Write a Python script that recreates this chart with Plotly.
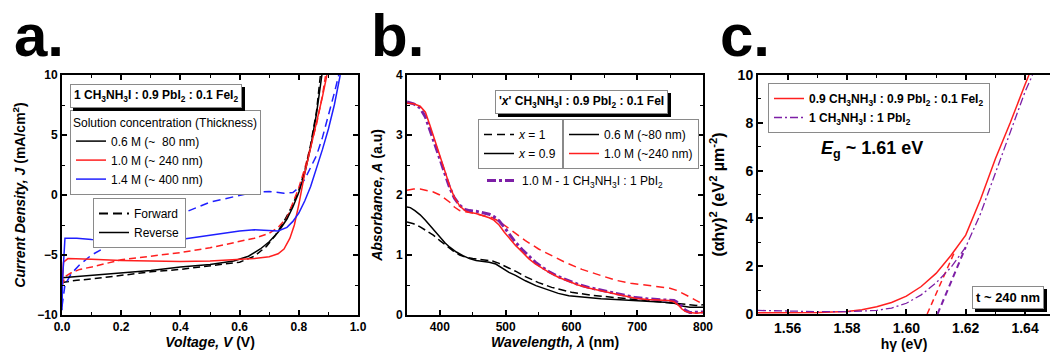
import plotly.graph_objects as go

# ---------------- Panel a: J-V curves ----------------
a_v_black_rev = [0.00, 0.05, 0.10, 0.20, 0.30, 0.40, 0.50, 0.58, 0.63, 0.67, 0.70, 0.73, 0.76, 0.78, 0.80, 0.82, 0.84, 0.86, 0.878]
a_j_black_rev = [-6.9, -6.8, -6.7, -6.5, -6.3, -6.0, -5.8, -5.5, -5.1, -4.5, -3.9, -3.1, -2.0, -1.0, 0.2, 1.8, 4.0, 6.8, 10.0]
a_v_black_fwd = [0.00, 0.05, 0.10, 0.20, 0.30, 0.40, 0.50, 0.60, 0.65, 0.69, 0.72, 0.75, 0.78, 0.80, 0.82, 0.84, 0.86, 0.873]
a_j_black_fwd = [-7.3, -7.1, -7.0, -6.7, -6.4, -6.2, -5.9, -5.6, -5.1, -4.3, -3.4, -2.2, -0.8, 0.4, 2.0, 4.2, 7.0, 10.0]
a_v_red_rev = [0.000, 0.005, 0.02, 0.05, 0.10, 0.20, 0.30, 0.40, 0.50, 0.60, 0.65, 0.70, 0.73, 0.75, 0.77, 0.785, 0.80, 0.82, 0.84, 0.86, 0.88, 0.895]
a_j_red_rev = [-7.8, -5.6, -5.3, -5.3, -5.35, -5.45, -5.5, -5.55, -5.5, -5.4, -5.3, -5.15, -4.9, -4.5, -3.6, -2.5, -0.8, 1.8, 3.9, 6.0, 8.2, 10.0]
a_v_red_fwd = [0.00, 0.01, 0.03, 0.06, 0.10, 0.20, 0.30, 0.40, 0.50, 0.60, 0.65, 0.70, 0.73, 0.76, 0.78, 0.80, 0.82, 0.84, 0.86, 0.88, 0.89]
a_j_red_fwd = [-7.6, -6.8, -6.5, -6.2, -6.0, -5.4, -5.1, -4.8, -4.4, -3.9, -3.6, -3.2, -2.7, -1.9, -0.6, 0.6, 2.2, 4.0, 5.9, 8.3, 9.9]
a_v_blue_rev = [0.000, 0.002, 0.01, 0.05, 0.10, 0.20, 0.30, 0.40, 0.50, 0.60, 0.65, 0.70, 0.73, 0.76, 0.78, 0.80, 0.82, 0.84, 0.86, 0.88, 0.90, 0.92, 0.94]
a_j_blue_rev = [-9.6, -7.0, -3.6, -3.6, -3.7, -3.8, -3.8, -3.7, -3.35, -3.0, -2.9, -2.95, -3.0, -2.7, -2.2, -1.5, -0.5, 0.7, 2.2, 3.8, 5.5, 7.5, 10.0]
a_v_blue_fwd = [0.00, 0.01, 0.03, 0.06, 0.10, 0.15, 0.20, 0.25, 0.30, 0.40, 0.50, 0.60, 0.65, 0.70, 0.75, 0.78, 0.80, 0.82, 0.84, 0.86, 0.88, 0.90, 0.92, 0.935]
a_j_blue_fwd = [-9.3, -7.5, -6.6, -5.8, -5.0, -4.3, -3.8, -3.3, -2.7, -1.6, -0.6, 0.0, 0.25, 0.3, 0.15, 0.2, 0.6, 1.3, 2.3, 3.3, 4.8, 6.6, 8.5, 10.0]

# ---------------- Panel b: absorbance ----------------
b_lam_red = [350, 360, 370, 378, 385, 392, 400, 408, 415, 422, 430, 438, 445, 455, 465, 475, 482, 490, 498, 506, 515, 525, 535, 545, 555, 566, 580, 596, 610, 626, 645, 667, 685, 697, 715, 735, 748, 756, 763, 768, 773, 780, 790, 800]
b_a_red = [3.53, 3.52, 3.48, 3.38, 3.16, 2.92, 2.66, 2.38, 2.15, 1.96, 1.82, 1.74, 1.71, 1.69, 1.66, 1.62, 1.58, 1.50, 1.38, 1.27, 1.16, 1.05, 0.94, 0.85, 0.78, 0.71, 0.63, 0.56, 0.50, 0.45, 0.40, 0.35, 0.31, 0.28, 0.26, 0.25, 0.24, 0.22, 0.16, 0.10, 0.06, 0.04, 0.03, 0.04]
b_lam_purple = [350, 360, 370, 378, 385, 392, 400, 408, 415, 422, 430, 438, 445, 455, 465, 475, 482, 490, 498, 506, 515, 525, 535, 545, 555, 566, 580, 596, 610, 626, 645, 667, 685, 697, 715, 735, 748, 756, 763, 768, 773, 780, 790, 800]
b_a_purple = [3.55, 3.52, 3.45, 3.30, 3.08, 2.85, 2.60, 2.33, 2.12, 1.95, 1.83, 1.76, 1.74, 1.73, 1.71, 1.68, 1.64, 1.57, 1.46, 1.34, 1.21, 1.09, 0.98, 0.88, 0.80, 0.72, 0.64, 0.57, 0.51, 0.46, 0.41, 0.36, 0.32, 0.29, 0.27, 0.26, 0.25, 0.24, 0.20, 0.14, 0.08, 0.04, 0.04, 0.05]
b_lam_red_dash = [350, 360, 370, 380, 390, 400, 408, 415, 422, 430, 438, 450, 465, 480, 490, 500, 515, 530, 550, 570, 590, 616, 640, 667, 690, 718, 748, 760, 768, 780, 790, 800]
b_a_red_dash = [2.08, 2.10, 2.10, 2.08, 2.05, 2.00, 1.94, 1.88, 1.80, 1.74, 1.72, 1.70, 1.66, 1.62, 1.56, 1.48, 1.36, 1.24, 1.10, 0.99, 0.88, 0.76, 0.67, 0.58, 0.53, 0.49, 0.45, 0.41, 0.37, 0.30, 0.24, 0.18]
b_lam_black = [350, 355, 362, 370, 378, 385, 392, 400, 408, 415, 425, 435, 445, 455, 465, 475, 485, 495, 505, 515, 530, 546, 565, 580, 596, 620, 645, 667, 700, 730, 748, 758, 768, 780, 790, 800]
b_a_black = [1.80, 1.79, 1.74, 1.67, 1.58, 1.49, 1.40, 1.30, 1.20, 1.13, 1.05, 0.99, 0.94, 0.91, 0.90, 0.88, 0.85, 0.78, 0.71, 0.66, 0.57, 0.49, 0.41, 0.36, 0.32, 0.29, 0.27, 0.26, 0.24, 0.22, 0.21, 0.19, 0.15, 0.13, 0.13, 0.13]
b_lam_black_dash = [350, 360, 370, 380, 390, 400, 410, 420, 430, 440, 450, 460, 470, 480, 490, 500, 515, 530, 550, 570, 600, 630, 667, 700, 730, 750, 760, 770, 780, 790, 800]
b_a_black_dash = [1.55, 1.52, 1.47, 1.40, 1.33, 1.24, 1.15, 1.07, 1.00, 0.96, 0.94, 0.93, 0.92, 0.90, 0.86, 0.81, 0.73, 0.64, 0.54, 0.46, 0.38, 0.33, 0.29, 0.26, 0.23, 0.21, 0.20, 0.19, 0.17, 0.16, 0.17]

# ---------------- Panel c: Tauc plot ----------------
c_e_red = [1.55, 1.56, 1.57, 1.58, 1.585, 1.59, 1.595, 1.60, 1.605, 1.61, 1.615, 1.62, 1.625, 1.63, 1.635, 1.64, 1.6413]
c_y_red = [0.05, 0.05, 0.06, 0.10, 0.18, 0.30, 0.48, 0.75, 1.15, 1.70, 2.45, 3.30, 4.80, 6.50, 8.00, 9.60, 10.0]
c_e_purple = [1.55, 1.56, 1.57, 1.58, 1.59, 1.595, 1.60, 1.605, 1.61, 1.615, 1.62, 1.625, 1.63, 1.635, 1.64, 1.6425]
c_y_purple = [0.15, 0.12, 0.10, 0.10, 0.15, 0.25, 0.45, 0.80, 1.30, 1.95, 2.80, 4.20, 5.90, 7.60, 9.30, 10.0]
c_fit_e_red = [1.607, 1.6166]
c_fit_y_red = [0.0, 2.7]
c_fit_e_purple = [1.6105, 1.6200]
c_fit_y_purple = [0.0, 2.8]

FONT = "Liberation Sans, Arial, Helvetica, sans-serif"
W, H = 1050, 360
RED = "#ff1f1f"
BLUE = "#1f1fff"
PURPLE = "#7d1fa6"
BLACK = "#000000"


def px_x(p):
    return p / W


def px_y(p):
    return 1 - p / H


fig = go.Figure()


def line_trace(x, y, color, width, dash, name=None, legend=None, axes=("x", "y")):
    return go.Scatter(
        x=x, y=y, mode="lines",
        line=dict(color=color, width=width, dash=dash),
        name=name, legend=legend, showlegend=name is not None,
        xaxis=axes[0], yaxis=axes[1], hoverinfo="skip",
    )


# Panel a traces
A = ("x", "y")
fig.add_trace(line_trace(a_v_black_fwd, a_j_black_fwd, BLACK, 1.5, "7px,4px", axes=A))
fig.add_trace(line_trace(a_v_red_fwd, a_j_red_fwd, RED, 1.5, "7px,4px", axes=A))
fig.add_trace(line_trace(a_v_blue_fwd, a_j_blue_fwd, BLUE, 1.5, "8px,5px", axes=A))
fig.add_trace(line_trace(a_v_black_rev, a_j_black_rev, BLACK, 1.5, "solid", "0.6 M (~  80 nm)", "legend", A))
fig.add_trace(line_trace(a_v_red_rev, a_j_red_rev, RED, 1.5, "solid", "1.0 M (~ 240 nm)", "legend", A))
fig.add_trace(line_trace(a_v_blue_rev, a_j_blue_rev, BLUE, 1.5, "solid", "1.4 M (~ 400 nm)", "legend", A))
fig.add_trace(line_trace([None], [None], BLACK, 2, "9px,5px", "Forward", "legend2", A))
fig.add_trace(line_trace([None], [None], BLACK, 1.5, "solid", "Reverse", "legend2", A))

# Panel b traces
B = ("x2", "y2")
fig.add_trace(line_trace(b_lam_black_dash, b_a_black_dash, BLACK, 1.5, "8px,4px", axes=B))
fig.add_trace(line_trace(b_lam_red_dash, b_a_red_dash, RED, 1.5, "8px,5px", axes=B))
fig.add_trace(line_trace(b_lam_black, b_a_black, BLACK, 1.5, "solid", axes=B))
fig.add_trace(line_trace(b_lam_purple, b_a_purple, PURPLE, 3, "9px,3px,3px,3px", axes=B))
fig.add_trace(line_trace(b_lam_red, b_a_red, RED, 1.5, "solid", axes=B))
fig.add_trace(line_trace([None], [None], BLACK, 1.5, "8px,5px", "<i>x</i> = 1", "legend3", B))
fig.add_trace(line_trace([None], [None], BLACK, 1.5, "solid", "<i>x</i> = 0.9", "legend3", B))
fig.add_trace(line_trace([None], [None], BLACK, 1.5, "solid", "0.6 M (~80 nm)", "legend4", B))
fig.add_trace(line_trace([None], [None], RED, 1.5, "solid", "1.0 M (~240 nm)", "legend4", B))
fig.add_trace(line_trace([None], [None], PURPLE, 3, "9px,3px,3px,3px",
                         "1.0 M - 1 CH<sub>3</sub>NH<sub>3</sub>I : 1 PbI<sub>2</sub>", "legend5", B))

# Panel c traces
C = ("x3", "y3")
fig.add_trace(line_trace(c_fit_e_red, c_fit_y_red, RED, 1.5, "6px,4px", axes=C))
fig.add_trace(line_trace(c_fit_e_purple, c_fit_y_purple, PURPLE, 2, "6px,4px", axes=C))
fig.add_trace(line_trace(c_e_red, c_y_red, RED, 1.5, "solid",
                         "0.9 CH<sub>3</sub>NH<sub>3</sub>I : 0.9 PbI<sub>2</sub> : 0.1 FeI<sub>2</sub>", "legend6", C))
fig.add_trace(line_trace(c_e_purple, c_y_purple, PURPLE, 1.3, "8px,3px,2px,3px",
                         "1 CH<sub>3</sub>NH<sub>3</sub>I : 1 PbI<sub>2</sub>", "legend6", C))

tickfont = dict(family=FONT, size=12, color="black", weight="bold")
axis_common = dict(
    showline=True, linecolor="black", linewidth=2, mirror="ticks",
    ticks="inside", ticklen=5, tickwidth=1.5, tickcolor="black",
    showgrid=False, zeroline=False, automargin=False, tickfont=tickfont,
    minor=dict(ticks="inside", ticklen=3, tickwidth=1.2, tickcolor="black", showgrid=False),
)
title_font = dict(family=FONT, size=14, color="black", weight="bold")

y_dom = [px_y(315), px_y(75)]

legend_common = dict(
    xanchor="left", yanchor="top", bgcolor="white", bordercolor="#8a8a8a", borderwidth=1,
    font=dict(family=FONT, size=12, color="black"), itemwidth=30, tracegroupgap=0,
)

fig.update_layout(
    width=W, height=H, margin=dict(l=0, r=0, t=0, b=0),
    paper_bgcolor="white", plot_bgcolor="white", template="none",
    xaxis=dict(axis_common, domain=[px_x(62), px_x(358)], anchor="y", range=[0, 1.0], dtick=0.2,
               tick0=0, tickformat=".1f", minor_dtick=0.1,
               title=dict(text="<i>Voltage, V</i> (V)", font=title_font, standoff=4)),
    yaxis=dict(axis_common, domain=y_dom, anchor="x", range=[-10, 10], dtick=5, tick0=0, minor_dtick=2.5,
               title=dict(text="<i>Current Density, J</i> (mA/cm<sup>2</sup>)", font=title_font, standoff=8)),
    xaxis2=dict(axis_common, domain=[px_x(407), px_x(703)], anchor="y2", range=[350, 800], dtick=100,
                tick0=0, minor_dtick=50,
                title=dict(text="<i>Wavelength, λ</i> (nm)", font=title_font, standoff=4)),
    yaxis2=dict(axis_common, domain=y_dom, anchor="x2", range=[0, 4], dtick=1, tick0=0, minor_dtick=0.5,
                title=dict(text="<i>Absorbance, A</i> (a.u)", font=title_font, standoff=10)),
    xaxis3=dict(axis_common, domain=[px_x(758), 1.0], anchor="y3", range=[1.55, 1.6484], dtick=0.02,
                tick0=1.56, tickformat=".2f", minor_dtick=0.01,
                tickfont=dict(tickfont, size=14),
                title=dict(text="hγ (eV)", font=dict(title_font, size=14), standoff=2)),
    yaxis3=dict(axis_common, domain=[px_y(314), px_y(75)], anchor="x3", range=[0, 10], dtick=2, tick0=0,
                minor_dtick=1, mirror=False, tickfont=dict(tickfont, size=14),
                title=dict(text="(αhγ)<sup>2</sup> (eV<sup>2</sup> µm<sup>-2</sup>)",
                           font=dict(family=FONT, size=16, color="black", weight="bold"), standoff=9)),
    legend=dict(legend_common, x=px_x(70), y=px_y(110),
                title=dict(text="Solution concentration (Thickness)", font=dict(family=FONT, size=12))),
    legend2=dict(legend_common, x=px_x(93), y=px_y(198)),
    legend3=dict(legend_common, x=px_x(478), y=px_y(119)),
    legend4=dict(legend_common, x=px_x(563), y=px_y(119)),
    legend5=dict(legend_common, x=px_x(482), y=px_y(166), borderwidth=0, bgcolor="rgba(0,0,0,0)"),
    legend6=dict(legend_common, x=px_x(768), y=px_y(83),
                 font=dict(family=FONT, size=12, color="black", weight="bold")),
    showlegend=True,
)

annotations = []


def boxed(text, cx, cy, size=12):
    # shadow then box
    common = dict(text=text, x=px_x(cx), y=px_y(cy), xref="paper", yref="paper",
                  xanchor="center", yanchor="middle", showarrow=False, borderwidth=1, borderpad=3)
    annotations.append(dict(common, xshift=3, yshift=-3,
                            font=dict(family=FONT, size=size, color="black", weight="bold"),
                            bgcolor="black", bordercolor="black"))
    annotations.append(dict(common,
                            font=dict(family=FONT, size=size, color="black", weight="bold"),
                            bgcolor="white", bordercolor="#8a8a8a"))


boxed("1 CH<sub>3</sub>NH<sub>3</sub>I : 0.9 PbI<sub>2</sub> : 0.1 FeI<sub>2</sub>", 156, 96)
boxed("'<i>x</i>' CH<sub>3</sub>NH<sub>3</sub>I : 0.9 PbI<sub>2</sub> : 0.1 FeI", 581, 102)
boxed("t ~ 240 nm", 1008, 297, size=13)

annotations.append(dict(text="<i>E</i><sub>g</sub> ~ 1.61 eV", x=px_x(872), y=px_y(149),
                        xref="paper", yref="paper", xanchor="center", yanchor="middle", showarrow=False,
                        font=dict(family=FONT, size=18, color="black", weight="bold")))

for lab, xl in (("a.", 13), ("b.", 370), ("c.", 719)):
    annotations.append(dict(text=lab, x=px_x(xl), y=px_y(1), xref="paper", yref="paper",
                            xanchor="left", yanchor="top", showarrow=False, borderpad=0,
                            font=dict(family=FONT, size=60, color="black", weight="bold")))

fig.update_layout(annotations=annotations)

fig.write_html("out.html")
